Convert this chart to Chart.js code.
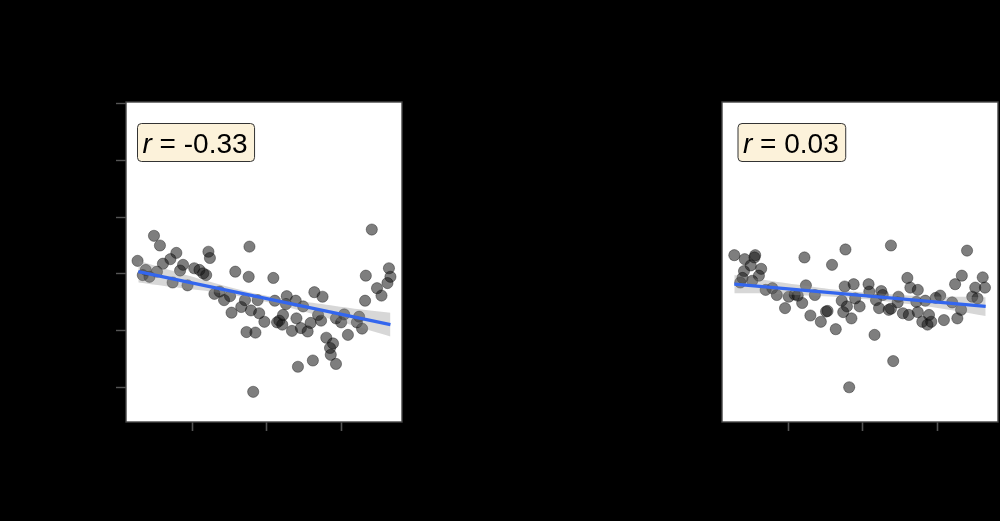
<!DOCTYPE html>
<html>
<head>
<meta charset="utf-8">
<script src="https://cdn.jsdelivr.net/npm/chart.js@4/dist/chart.umd.min.js"></script>
<style>
  html, body { margin: 0; padding: 0; background: #000; }
  #wrap { position: relative; width: 1000px; height: 521px; background: #000; overflow: hidden; }
  .panel { position: absolute; top: 0; width: 500px; height: 521px; }
</style>
</head>
<body>
<div id="wrap">
  <div class="panel" style="left:0"><canvas id="left" width="500" height="521"></canvas></div>
  <div class="panel" style="left:500px"><canvas id="right" width="500" height="521"></canvas></div>
</div>
<script>
// axis ticks (labels are black on black in the source)
const xTicks = [1, 2, 3];
const yTicks = [0, 1, 2, 3, 4, 5];
const xRange = [0.115, 3.815];
const yRange = [-0.6, 5.02];

// left panel
const leftX = [0.49, 0.57, 0.27, 0.79, 0.71, 0.61, 0.38, 0.34, 0.43, 0.53, 0.88, 0.84, 1.03, 1.10, 1.19, 1.15,
  0.74, 0.94, 1.22, 1.24, 1.77, 1.58, 1.76, 1.30, 1.37, 1.43, 1.51, 1.53, 1.66, 1.71, 1.79, 1.88,
  1.90, 1.97, 1.73, 1.85, 1.82, 3.41, 2.09, 3.64, 3.33, 3.66, 3.62, 3.48, 3.54, 3.32, 2.64, 2.75,
  2.11, 2.27, 2.39, 2.49, 2.26, 2.17, 2.14, 2.21, 2.22, 2.40, 2.34, 2.46, 2.55, 2.59, 2.69, 2.73,
  2.93, 3.00, 3.04, 3.24, 3.21, 3.28, 3.09, 2.80, 2.89, 2.85, 2.86, 2.93, 2.62, 2.42];
const leftY = [2.67, 2.50, 2.23, 2.37, 2.26, 2.18, 2.07, 1.98, 1.95, 2.04, 2.16, 2.06, 2.10, 2.07, 1.98, 2.01,
  1.85, 1.80, 2.39, 2.28, 2.48, 2.04, 1.95, 1.65, 1.69, 1.54, 1.61, 1.32, 1.42, 1.54, 1.36, 1.54,
  1.31, 1.16, 0.98, 0.97, -0.07, 2.78, 1.93, 2.10, 1.97, 1.95, 1.84, 1.75, 1.62, 1.53, 1.68, 1.60,
  1.53, 1.61, 1.53, 1.43, 1.47, 1.18, 1.15, 1.11, 1.28, 1.22, 1.00, 1.05, 0.99, 1.14, 1.28, 1.18,
  1.22, 1.15, 1.29, 1.25, 1.15, 1.04, 0.93, 0.88, 0.78, 0.70, 0.58, 0.42, 0.48, 0.37];
const leftFitX = [0.28, 3.66];
const leftFitY = [2.04, 1.11];
const leftBandX = [0.28, 0.8, 1.3, 1.8, 2.3, 2.8, 3.3, 3.66];
const leftBandHi = [2.23, 2.03, 1.84, 1.67, 1.55, 1.46, 1.37, 1.32];
const leftBandLo = [1.85, 1.76, 1.68, 1.57, 1.41, 1.23, 1.04, 0.90];
const leftR = '-0.33';

// right panel
const rightX = [0.28, 0.42, 0.56, 0.55, 0.50, 0.41, 0.64, 0.61, 0.39, 0.36, 0.52, 1.22, 1.77, 1.59, 0.70, 0.79,
  0.85, 0.96, 1.01, 1.09, 1.13, 1.19, 1.24, 1.36, 1.30, 1.44, 1.51, 1.53, 1.64, 1.76, 1.88, 1.72,
  1.79, 1.74, 1.85, 1.90, 1.96, 1.82, 2.38, 3.40, 2.08, 2.09, 2.25, 2.27, 2.18, 2.22, 2.35, 2.38,
  2.48, 2.47, 2.60, 2.64, 2.74, 2.72, 2.54, 2.62, 2.74, 2.84, 2.89, 2.80, 2.87, 2.92, 2.98, 3.04,
  3.09, 3.20, 3.24, 3.33, 3.27, 3.32, 2.16, 2.41, 3.51, 3.61, 3.64, 3.47, 3.54];
const rightY = [2.33, 2.26, 2.33, 2.29, 2.15, 2.05, 2.09, 1.97, 1.93, 1.85, 1.88, 2.29, 2.43, 2.16, 1.72, 1.75,
  1.63, 1.40, 1.60, 1.64, 1.62, 1.49, 1.80, 1.63, 1.27, 1.16, 1.34, 1.35, 1.03, 1.78, 1.82, 1.53,
  1.43, 1.33, 1.22, 1.57, 1.43, 0.01, 2.50, 2.41, 1.82, 1.69, 1.70, 1.63, 1.54, 1.40, 1.37, 1.39,
  1.60, 1.50, 1.93, 1.76, 1.72, 1.51, 1.31, 1.28, 1.33, 1.53, 1.28, 1.16, 1.11, 1.16, 1.58, 1.62,
  1.19, 1.50, 1.82, 1.97, 1.22, 1.37, 0.93, 0.47, 1.76, 1.94, 1.76, 1.60, 1.57];
const rightFitX = [0.28, 3.65];
const rightFitY = [1.82, 1.43];
const rightBandX = [0.28, 0.8, 1.3, 1.8, 2.3, 2.8, 3.3, 3.65];
const rightBandHi = [1.98, 1.87, 1.78, 1.70, 1.65, 1.61, 1.60, 1.59];
const rightBandLo = [1.66, 1.65, 1.62, 1.58, 1.52, 1.44, 1.34, 1.26];
const rightR = '0.03';

const pts = (xs, ys) => xs.map((x, i) => ({ x: x, y: ys[i] }));

// white plot box, frame and the r label box
const panelPlugin = {
  id: 'panel',
  beforeDraw(chart) {
    const { ctx, chartArea: a } = chart;
    ctx.save();
    ctx.fillStyle = '#000';
    ctx.fillRect(0, 0, chart.width, chart.height);
    ctx.fillStyle = '#fff';
    ctx.fillRect(a.left, a.top, a.right - a.left, a.bottom - a.top);
    ctx.restore();
  },
  afterDraw(chart, args, opts) {
    const { ctx, chartArea: a } = chart;
    ctx.save();
    ctx.strokeStyle = '#444';
    ctx.lineWidth = 1.4;
    ctx.strokeRect(a.left, a.top, a.right - a.left, a.bottom - a.top);

    // r = ... label
    const fs = 28;
    const italic = 'italic ' + fs + 'px "Liberation Sans", Arial, sans-serif';
    const normal = fs + 'px "Liberation Sans", Arial, sans-serif';
    ctx.font = italic;
    const w1 = ctx.measureText('r').width;
    ctx.font = normal;
    const rest = ' = ' + opts.r;
    const w2 = ctx.measureText(rest).width;
    const bx = a.left + opts.boxX, by = a.top + 21.5;
    const bw = w1 + w2 + 12, bh = 38;
    ctx.beginPath();
    ctx.roundRect(bx, by, bw, bh, 4);
    ctx.fillStyle = '#fcf2da';
    ctx.fill();
    ctx.strokeStyle = '#333';
    ctx.lineWidth = 1;
    ctx.stroke();
    ctx.fillStyle = '#000';
    ctx.textBaseline = 'alphabetic';
    ctx.font = italic;
    ctx.fillText('r', bx + 5, by + 29);
    ctx.font = normal;
    ctx.fillText(rest, bx + 5 + w1, by + 29);
    ctx.restore();
  }
};

function makePanel(id, xs, ys, fitX, fitY, bandX, hi, lo, r, showY) {
  new Chart(document.getElementById(id), {
    type: 'scatter',
    data: {
      datasets: [
        {
          type: 'line',
          data: pts(fitX, fitY),
          borderColor: '#3366ee',
          borderWidth: 3.2,
          pointRadius: 0,
          fill: false,
          order: 0
        },
        {
          type: 'line',
          data: pts(bandX, hi),
          borderWidth: 0,
          borderColor: 'rgba(0,0,0,0)',
          backgroundColor: 'rgba(140,140,140,0.35)',
          pointRadius: 0,
          tension: 0.3,
          fill: '+1',
          order: 1
        },
        {
          type: 'line',
          data: pts(bandX, lo),
          borderWidth: 0,
          borderColor: 'rgba(0,0,0,0)',
          pointRadius: 0,
          tension: 0.3,
          fill: false,
          order: 1
        },
        {
          data: pts(xs, ys),
          backgroundColor: 'rgba(20,20,20,0.55)',
          borderColor: 'rgba(0,0,0,0.45)',
          borderWidth: 0.8,
          pointRadius: 5.6,
          order: 2
        }
      ]
    },
    options: {
      responsive: false,
      animation: false,
      events: [],
      layout: {
        autoPadding: false,
        padding: { top: 102, right: showY ? 98 : 2, left: showY ? 0 : 222, bottom: 0 }
      },
      plugins: {
        legend: { display: false },
        tooltip: { enabled: false },
        panel: { r: r, boxX: showY ? 11.5 : 16 }
      },
      scales: {
        x: {
          type: 'linear',
          min: xRange[0],
          max: xRange[1],
          afterBuildTicks: s => { s.ticks = xTicks.map(v => ({ value: v })); },
          afterFit: s => { s.height = 99; s.paddingLeft = 0; s.paddingRight = 0; },
          border: { display: false },
          grid: { drawOnChartArea: false, drawTicks: true, tickLength: 9, tickColor: '#555', tickWidth: 1.6 },
          ticks: { color: '#000', font: { size: 15 } }
        },
        y: {
          type: 'linear',
          display: showY,
          min: yRange[0],
          max: yRange[1],
          afterBuildTicks: s => { s.ticks = yTicks.map(v => ({ value: v })); },
          afterFit: s => { s.width = showY ? 126 : 0; },
          border: { display: false },
          grid: { drawOnChartArea: false, drawTicks: true, tickLength: 10, tickColor: '#555', tickWidth: 1.4 },
          ticks: { color: '#000', font: { size: 15 } }
        }
      }
    },
    plugins: [panelPlugin]
  });
}

makePanel('left', leftX, leftY, leftFitX, leftFitY, leftBandX, leftBandHi, leftBandLo, leftR, true);
makePanel('right', rightX, rightY, rightFitX, rightFitY, rightBandX, rightBandHi, rightBandLo, rightR, false);
</script>
</body>
</html>
